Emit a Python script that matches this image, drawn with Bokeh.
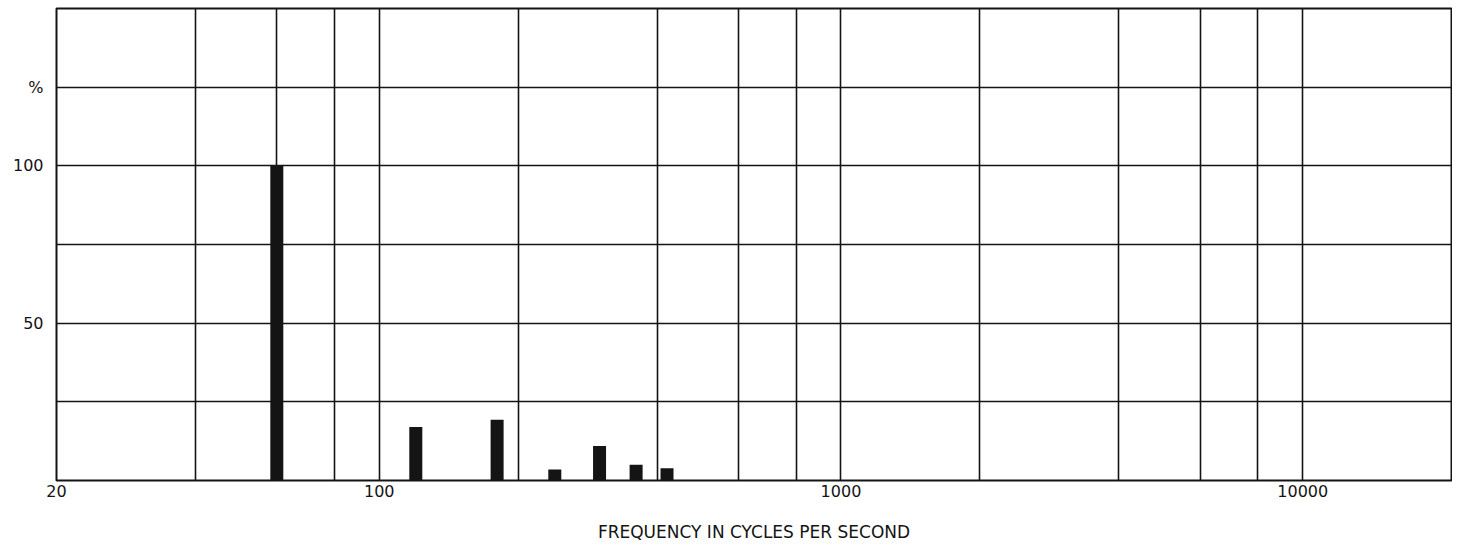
from bokeh.plotting import figure
from bokeh.models import FixedTicker, ColumnDataSource
from bokeh.embed import file_html
from bokeh.resources import INLINE

# ---- data ----
freq_hz = [60, 120, 180, 240, 300, 360, 420]
percent = [100, 17.0, 19.3, 3.5, 11.0, 5.0, 3.9]

x_grid_lines = [20, 40, 60, 80, 100, 200, 400, 600, 800, 1000, 2000, 4000, 6000, 8000, 10000]
x_tick_values = [20, 100, 1000, 10000]
x_tick_labels = ["20", "100", "1000", "10000"]

y_grid_lines = [0, 25, 50, 75, 100, 125, 150]
y_tick_values = [50, 100, 125]
y_tick_labels = ["50", "100", "%"]

x_label = "FREQUENCY IN CYCLES PER SECOND"

FONT = "DejaVu Sans"
INK = "#141414"

p = figure(
    width=1452, height=544,
    x_axis_type="log", x_range=(20, 21000), y_range=(0, 150),
    output_backend="svg", toolbar_location=None,
    min_border_top=8, min_border_left=56, min_border_right=1, min_border_bottom=64,
)
p.background_fill_color = "white"
p.border_fill_color = "white"
p.outline_line_color = INK
p.outline_line_width = 2

src = ColumnDataSource(dict(x=freq_hz, y0=[0] * len(freq_hz), y1=percent))
p.segment(x0="x", y0="y0", x1="x", y1="y1", source=src,
          line_width=13, line_color=INK, line_cap="butt")

# grids
p.xgrid.ticker = FixedTicker(ticks=x_grid_lines)
p.ygrid.ticker = FixedTicker(ticks=y_grid_lines)
for g in (p.xgrid, p.ygrid):
    g.grid_line_color = INK
    g.grid_line_width = 1.6
    g.grid_line_alpha = 1.0
    g.minor_grid_line_color = None

# x axis
xa = p.xaxis[0]
xa.ticker = FixedTicker(ticks=x_tick_values)
xa.major_label_overrides = dict(zip(x_tick_values, x_tick_labels))
xa.axis_label = x_label

# y axis
ya = p.yaxis[0]
ya.ticker = FixedTicker(ticks=y_tick_values)
ya.major_label_overrides = dict(zip(y_tick_values, y_tick_labels))

for ax in (xa, ya):
    ax.axis_line_color = None
    ax.major_tick_line_color = None
    ax.minor_tick_line_color = None
    ax.major_tick_out = 0
    ax.major_tick_in = 0
    ax.major_label_text_font = FONT
    ax.major_label_text_font_size = "16px"
    ax.major_label_text_color = INK
    ax.axis_label_text_font = FONT
    ax.axis_label_text_font_style = "normal"
    ax.axis_label_text_font_size = "17px"
    ax.axis_label_text_color = INK

xa.major_label_standoff = 4
xa.axis_label_standoff = 22
ya.major_label_standoff = 13

open("out.html", "w").write(file_html(p, INLINE))
